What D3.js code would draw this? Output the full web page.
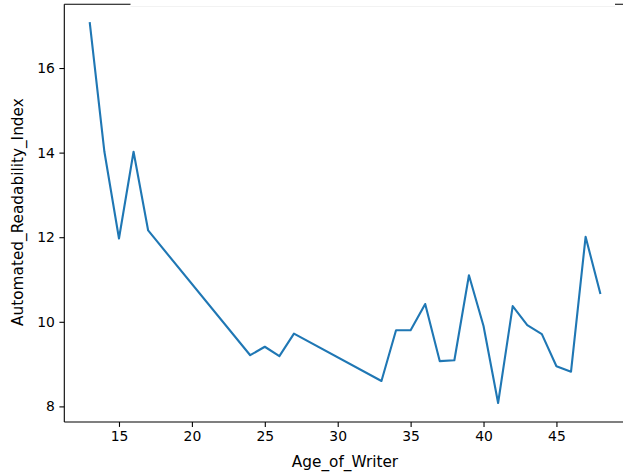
<!DOCTYPE html>
<html>
<head>
<meta charset="utf-8">
<script src="https://cdn.jsdelivr.net/npm/d3@7"></script>
<style>
  html, body { margin: 0; padding: 0; background: #fff; }
  svg { display: block; }
  text { font-family: "DejaVu Sans", sans-serif; }
</style>
</head>
<body>
<svg id="chart" width="623" height="476"></svg>
<script>
const ages = [13, 14, 15, 16, 17, 24, 25, 26, 27, 33, 34, 35, 36, 37, 38, 39, 40, 41, 42, 43, 44, 45, 46, 47, 48];
const ariValues = [17.06, 14.02, 11.97, 14.02, 12.16, 9.21, 9.41, 9.19, 9.72, 8.60, 9.80, 9.80, 10.42, 9.07, 9.09, 11.10, 9.90, 8.08, 10.37, 9.92, 9.71, 8.95, 8.82, 12.01, 10.68];
const xTicks = [15, 20, 25, 30, 35, 40, 45];
const yTicks = [8, 10, 12, 14, 16];
const xLabel = "Age_of_Writer";
const yLabel = "Automated_Readability_Index";

(function () {
const svg = d3.select("#chart");
const mLeft = 64.3, mRight = 625.7, mTop = 4.2, mBottom = 422;

function padded(ext) {
  const m = (ext[1] - ext[0]) * 0.05;
  return [ext[0] - m, ext[1] + m];
}
const x = d3.scaleLinear().domain(padded(d3.extent(ages))).range([mLeft, mRight]);
const y = d3.scaleLinear().domain(padded(d3.extent(ariValues))).range([mBottom, mTop]);

const data = ages.map((a, i) => ({a, v: ariValues[i]}));

// line
svg.append("path")
  .datum(data)
  .attr("fill", "none")
  .attr("stroke", "#1f77b4")
  .attr("stroke-width", 2.1)
  .attr("stroke-linejoin", "round")
  .attr("stroke-linecap", "square")
  .attr("d", d3.line().x(d => x(d.a)).y(d => y(d.v)));

// axes
const xAxis = d3.axisBottom(x).tickValues(xTicks).tickFormat(d3.format("d"))
  .tickSizeInner(4.9).tickSizeOuter(0).tickPadding(4.5);
const yAxis = d3.axisLeft(y).tickValues(yTicks).tickFormat(d3.format("d"))
  .tickSizeInner(4.9).tickSizeOuter(0).tickPadding(4.5);

const gx = svg.append("g").attr("transform", `translate(0,${mBottom})`).call(xAxis);
const gy = svg.append("g").attr("transform", `translate(${mLeft},0)`).call(yAxis);
[gx, gy].forEach(g => {
  g.select(".domain").remove();
  g.selectAll(".tick line").attr("stroke", "#000").attr("stroke-width", 1.1);
  g.selectAll(".tick text").attr("fill", "#000").style("font-size", "13.9px")
    .style("font-family", "'DejaVu Sans', sans-serif");
});

// spines
const sp = svg.append("g").attr("stroke", "#000").attr("stroke-width", 1.1).attr("fill", "none");
sp.append("line").attr("x1", mLeft).attr("x2", mLeft).attr("y1", mTop).attr("y2", mBottom);
sp.append("line").attr("x1", mLeft).attr("x2", mRight).attr("y1", mBottom).attr("y2", mBottom);
sp.append("line").attr("x1", mLeft).attr("x2", mRight).attr("y1", mTop).attr("y2", mTop);
sp.append("line").attr("x1", mRight).attr("x2", mRight).attr("y1", mTop).attr("y2", mBottom);

// white overlay hiding part of top spine
svg.append("rect").attr("x", 130.5).attr("y", -1).attr("width", 484.5).attr("height", 7)
  .attr("fill", "#fff");
svg.append("line").attr("x1", 130.5).attr("x2", 615).attr("y1", 6.5).attr("y2", 6.5)
  .attr("stroke", "#f2f2f2").attr("stroke-width", 1);

// labels
svg.append("text")
  .attr("x", (mLeft + mRight) / 2).attr("y", 467)
  .attr("text-anchor", "middle").style("font-size", "15.3px").attr("fill", "#000")
  .text(xLabel);
svg.append("text")
  .attr("transform", `translate(22.5,${(mTop + mBottom) / 2 - 1}) rotate(-90)`)
  .attr("text-anchor", "middle").style("font-size", "15.3px").attr("fill", "#000")
  .text(yLabel);
})();
</script>
</body>
</html>
